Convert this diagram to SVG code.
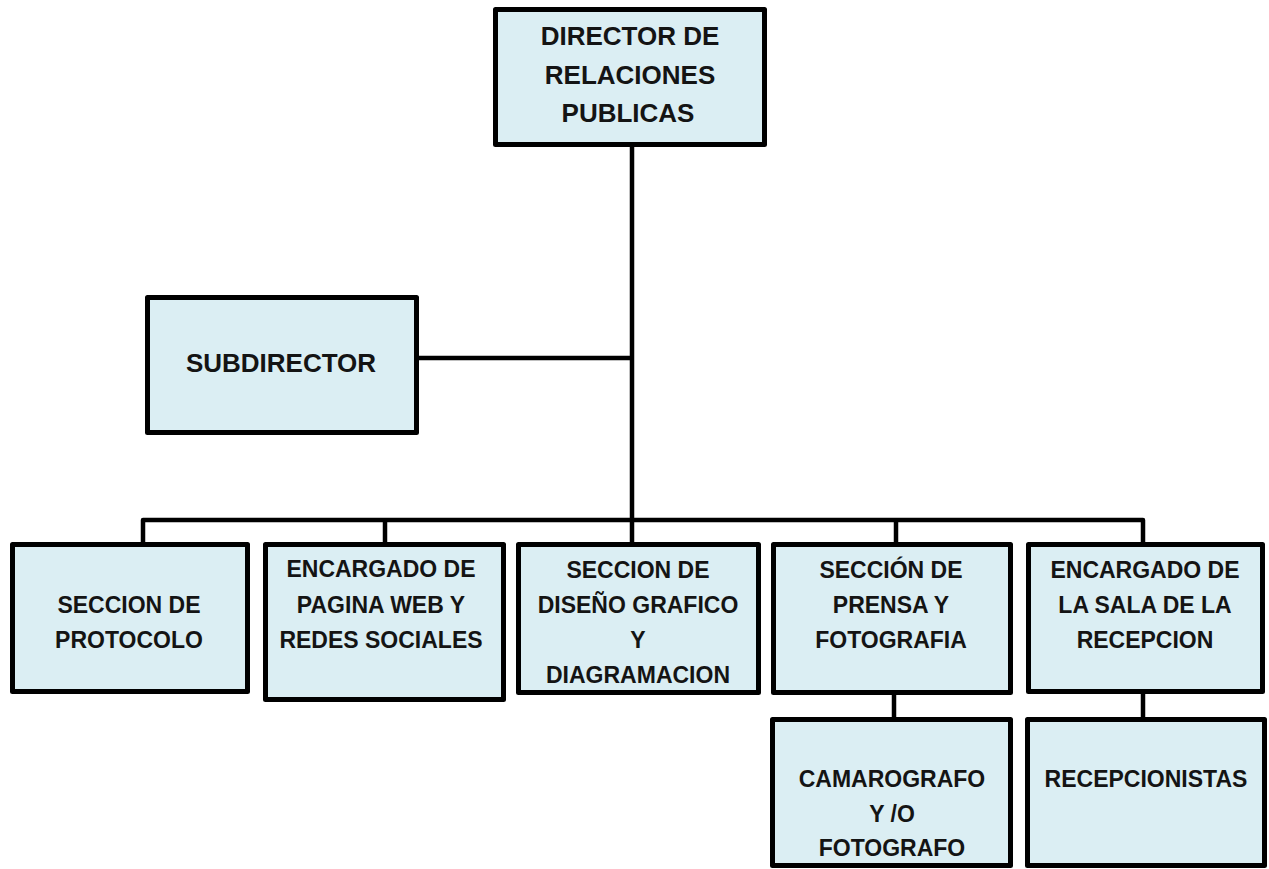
<svg xmlns="http://www.w3.org/2000/svg" width="1269" height="869" viewBox="0 0 1269 869">
<style>
.box{fill:#dbeef3;stroke:#000;stroke-width:5;stroke-linejoin:round}
.t{font-family:"Liberation Sans",Arial,sans-serif;font-weight:bold;font-size:23px;fill:#141414;text-anchor:middle}
.big{font-size:26px}
.c{fill:none;stroke:#000;stroke-width:4.5;stroke-linejoin:round}
</style>
<rect width="1269" height="869" fill="#fff"/>
<g id="connectors">
<path class="c" d="M632,147 V542"/>
<path class="c" d="M419,358 H632"/>
<path class="c" d="M143,542 V520 H1143 V542"/>
<path class="c" d="M385,520 V542"/>
<path class="c" d="M896,520 V542"/>
<path class="c" d="M894,695 V717"/>
<path class="c" d="M1143,694 V717"/>
</g>
<g id="director">
<rect class="box" x="495.5" y="9.5" width="269" height="135"/>
<text class="t big" x="630" y="45">DIRECTOR DE</text>
<text class="t big" x="630" y="84">RELACIONES</text>
<text class="t big" x="628" y="122">PUBLICAS</text>
</g>
<g id="subdirector">
<rect class="box" x="147.5" y="297.5" width="269" height="135"/>
<text class="t big" x="281" y="372">SUBDIRECTOR</text>
</g>
<g id="protocolo">
<rect class="box" x="12.5" y="544.5" width="235" height="147"/>
<text class="t" x="129" y="613">SECCION DE</text>
<text class="t" x="129" y="648">PROTOCOLO</text>
</g>
<g id="web">
<rect class="box" x="265.5" y="544.5" width="238" height="155"/>
<text class="t" x="381" y="577">ENCARGADO DE</text>
<text class="t" x="381" y="613">PAGINA WEB Y</text>
<text class="t" x="381" y="648">REDES SOCIALES</text>
</g>
<g id="diseno">
<rect class="box" x="518.5" y="544.5" width="240" height="148"/>
<text class="t" x="638" y="578">SECCION DE</text>
<text class="t" x="638" y="613">DISEÑO GRAFICO</text>
<text class="t" x="638" y="648">Y</text>
<text class="t" x="638" y="683">DIAGRAMACION</text>
</g>
<g id="prensa">
<rect class="box" x="773.5" y="544.5" width="237" height="148"/>
<text class="t" x="891" y="578">SECCIÓN DE</text>
<text class="t" x="891" y="613">PRENSA Y</text>
<text class="t" x="891" y="648">FOTOGRAFIA</text>
</g>
<g id="recepcion">
<rect class="box" x="1028.5" y="544.5" width="234" height="147"/>
<text class="t" x="1145" y="578">ENCARGADO DE</text>
<text class="t" x="1145" y="613">LA SALA DE LA</text>
<text class="t" x="1145" y="648">RECEPCION</text>
</g>
<g id="camarografo">
<rect class="box" x="772.5" y="719.5" width="238" height="146"/>
<text class="t" x="892" y="787">CAMAROGRAFO</text>
<text class="t" x="892" y="822">Y /O</text>
<text class="t" x="892" y="856">FOTOGRAFO</text>
</g>
<g id="recepcionistas">
<rect class="box" x="1027.5" y="719.5" width="237" height="146"/>
<text class="t" x="1146" y="787">RECEPCIONISTAS</text>
</g>
</svg>
